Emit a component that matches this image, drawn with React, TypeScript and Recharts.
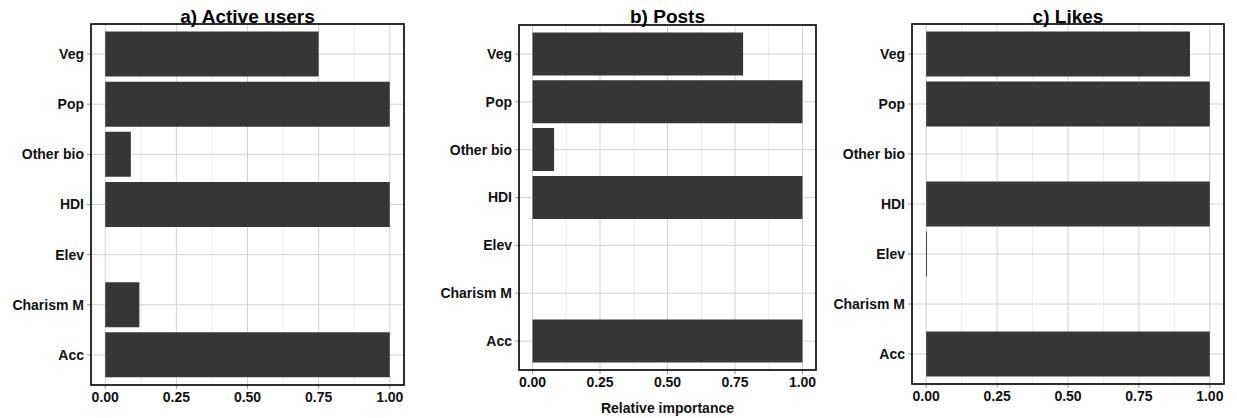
import { BarChart, Bar, XAxis, YAxis, CartesianGrid } from 'recharts'

const CATEGORIES = ['Veg', 'Pop', 'Other bio', 'HDI', 'Elev', 'Charism M', 'Acc']
const ACTIVE_USERS = [0.75, 1, 0.09, 1, 0, 0.12, 1]
const POSTS = [0.78, 1, 0.08, 1, 0, 0, 1]
const LIKES = [0.93, 1, 0, 1, 0.003, 0, 1]
const X_TICKS = [0, 0.25, 0.5, 0.75, 1]
const MINOR_TICKS = [0.125, 0.375, 0.625, 0.875]

const FONT = '"Liberation Sans", Arial, sans-serif'
const BAR_COLOR = '#363636'
const TICK_STYLE = { fontSize: 14, fontWeight: 700, fill: '#111', fontFamily: FONT }
const TICK_LINE = { stroke: '#999', strokeWidth: 1 }

interface PanelProps {
  title: string
  values: number[]
  left: number
  width: number
  yWidth: number
  margin: { top: number; right: number; bottom: number; left: number }
  xTitle?: string
}

function Panel({ title, values, left, width, yWidth, margin, xTitle }: PanelProps) {
  const data = CATEGORIES.map((name, i) => ({ name, value: values[i] }))
  const boxLeft = left + margin.left + yWidth
  const boxRight = left + width - margin.right
  const boxTop = margin.top
  const boxBottom = 418 - margin.bottom - 20
  return (
    <>
      <div style={{ position: 'absolute', left, top: 0 }}>
        <BarChart width={width} height={418} data={data} layout="vertical" margin={margin} barCategoryGap="5%">
          <CartesianGrid stroke="#e9e9e9" strokeWidth={0.8} horizontal={false} verticalValues={MINOR_TICKS} />
          <CartesianGrid stroke="#d2d2d2" strokeWidth={1} />
          <XAxis
            type="number"
            domain={[-0.05, 1.05]}
            ticks={X_TICKS}
            allowDataOverflow
            tickFormatter={(v: number) => v.toFixed(2)}
            tick={TICK_STYLE}
            tickLine={TICK_LINE}
            tickSize={4}
            tickMargin={3}
            axisLine={false}
            height={20}
          />
          <YAxis
            type="category"
            dataKey="name"
            width={yWidth}
            tick={TICK_STYLE}
            tickLine={TICK_LINE}
            tickSize={4}
            tickMargin={3}
            axisLine={false}
            padding={{ top: 5, bottom: 5 }}
            interval={0}
          />
          <Bar dataKey="value" fill={BAR_COLOR} isAnimationActive={false} />
        </BarChart>
      </div>
      <svg
        width={boxRight - boxLeft + 4}
        height={boxBottom - boxTop + 4}
        style={{ position: 'absolute', left: boxLeft - 2, top: boxTop - 2, pointerEvents: 'none' }}
      >
        <rect x={2} y={2} width={boxRight - boxLeft} height={boxBottom - boxTop} fill="none" stroke="#000" strokeWidth={1.6} />
      </svg>
      <div
        style={{
          position: 'absolute',
          left: boxLeft,
          width: boxRight - boxLeft,
          top: 7,
          textAlign: 'center',
          fontFamily: FONT,
          fontWeight: 700,
          fontSize: 19,
          lineHeight: '19px',
          color: '#000',
          whiteSpace: 'nowrap',
        }}
      >
        {title}
      </div>
      {xTitle && (
        <div
          style={{
            position: 'absolute',
            left: boxLeft,
            width: boxRight - boxLeft,
            top: 400.5,
            textAlign: 'center',
            fontFamily: FONT,
            fontWeight: 700,
            fontSize: 14,
            lineHeight: '14px',
            color: '#111',
            whiteSpace: 'nowrap',
          }}
        >
          {xTitle}
        </div>
      )}
    </>
  )
}

export default function App() {
  return (
    <div style={{ position: 'absolute', left: 0, top: 0, width: 1237, height: 418, background: '#fff', overflow: 'hidden' }}>
      <Panel
        title="a) Active users"
        values={ACTIVE_USERS}
        left={0}
        width={420}
        yWidth={85}
        margin={{ top: 24, right: 16, bottom: 13, left: 6 }}
      />
      <Panel
        title="b) Posts"
        values={POSTS}
        left={420}
        width={420}
        yWidth={92}
        margin={{ top: 25, right: 24, bottom: 28, left: 7 }}
        xTitle="Relative importance"
      />
      <Panel
        title="c) Likes"
        values={LIKES}
        left={820}
        width={417}
        yWidth={86}
        margin={{ top: 24, right: 13, bottom: 14, left: 6 }}
      />
    </div>
  )
}
